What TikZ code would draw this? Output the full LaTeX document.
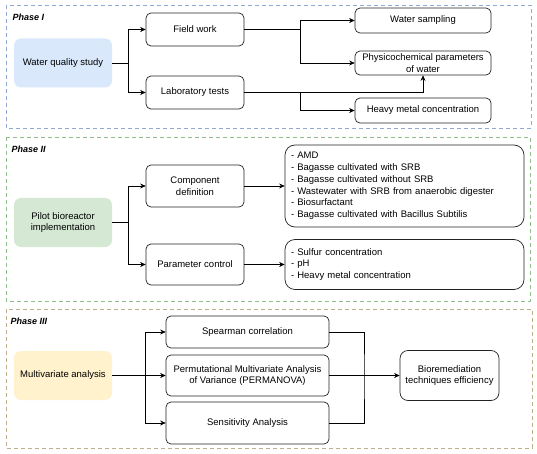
\documentclass[tikz,border=0pt]{standalone}
\usepackage{fontspec}
\setmainfont{Liberation Sans}
\usepackage[dvipsnames]{xcolor}
\usetikzlibrary{arrows.meta}

\definecolor{phaseIline}{HTML}{8FA9D4}
\definecolor{phaseIIline}{HTML}{8DBE8C}
\definecolor{phaseIIIline}{HTML}{BDAF8E}
\definecolor{bluefill}{HTML}{DAE8FC}
\definecolor{greenfill}{HTML}{D5E8D4}
\definecolor{yellowfill}{HTML}{FFF2CC}
\definecolor{boxline}{HTML}{222222}

\begin{document}
\begin{tikzpicture}[x=1pt,y=-1pt,>={Stealth[length=5.5pt,width=5pt]},line width=0.7pt,
    phase frame/.style={dash pattern=on 4pt off 3pt,line width=0.8pt},
    phase label/.style={anchor=west,font=\fontsize{9}{11}\selectfont\bfseries\itshape},
    start node/.style={rounded corners=7pt,align=center,minimum width=98pt,minimum height=49pt,inner sep=1pt,font=\fontsize{9.5}{11.5}\selectfont},
    task node/.style={draw=boxline,rounded corners=5pt,align=center,minimum width=98pt,minimum height=33pt,inner sep=1pt,font=\fontsize{9.5}{11.5}\selectfont},
    list node/.style={draw=boxline,rounded corners=10pt,align=left,text width=227pt,minimum width=239pt,inner xsep=6pt,inner ysep=1pt,font=\fontsize{9.5}{11.8}\selectfont}]
    \useasboundingbox (0,0) rectangle (537,454);

    % phase frames
    \draw[phase frame,phaseIline] (6,5) rectangle (531,128);
    \draw[phase frame,phaseIIline] (6,137) rectangle (530,301);
    \draw[phase frame,phaseIIIline] (6,309) rectangle (532,448);
    \node[phase label] (p1) at (9,17) {Phase I};
    \node[phase label] (p2) at (8,149) {Phase II};
    \node[phase label] (p3) at (7,321) {Phase III};

    % Phase I
    \node[start node,fill=bluefill] (wqs) at (63,63) {Water quality study};
    \node[task node] (field) at (195,29.5) {Field work};
    \node[task node] (lab) at (195,92.5) {Laboratory tests};
    \node[task node,minimum width=136pt,minimum height=25pt] (sampling) at (423,20.5) {Water sampling};
    \node[task node,minimum width=136pt,minimum height=24pt] (physchem) at (423,63) {Physicochemical parameters\\of water};
    \node[task node,minimum width=136pt,minimum height=25pt] (heavy) at (423,110.5) {Heavy metal concentration};
    \coordinate (j1) at (128,63);
    \coordinate (j2) at (300,29.5);
    \coordinate (j3) at (300,92.5);

    \draw[->] (wqs.east) -- (j1) |- (field.west);
    \draw[->] (j1) |- (lab.west);
    \draw[->] (field.east) -- (j2) |- (sampling.west);
    \draw[->] (j2) |- (physchem.west);
    \draw[->] (lab.east) -| (physchem.south);
    \draw[->] (j3) |- (heavy.west);

    % Phase II
    \node[start node,fill=greenfill] (pilot) at (63,222.5) {Pilot bioreactor\\implementation};
    \node[task node,minimum height=42pt] (comp) at (195,186) {Component\\definition};
    \node[task node,minimum height=41pt] (param) at (195,264.5) {Parameter control};
    \node[list node,minimum height=82pt] (ingredients) at (404.5,186) {- AMD\\- Bagasse cultivated with SRB\\- Bagasse cultivated without SRB\\- Wastewater with SRB from anaerobic digester\\- Biosurfactant\\- Bagasse cultivated with Bacillus Subtilis};
    \node[list node,minimum height=50pt] (controls) at (404.5,264.5) {- Sulfur concentration\\- pH\\- Heavy metal concentration};
    \coordinate (j4) at (128,222.5);

    \draw[->] (pilot.east) -- (j4) |- (comp.west);
    \draw[->] (j4) |- (param.west);
    \draw[->] (comp.east) -- (ingredients.west);
    \draw[->] (param.east) -- (controls.west);

    % Phase III
    \node[start node,fill=yellowfill] (multi) at (63,375.5) {Multivariate analysis};
    \node[task node,minimum width=163pt,minimum height=32pt] (spear) at (247.5,332) {Spearman correlation};
    \node[task node,minimum width=163pt,minimum height=41pt] (perm) at (247.5,375.5) {Permutational Multivariate Analysis\\of Variance (PERMANOVA)};
    \node[task node,minimum width=163pt,minimum height=42pt] (sens) at (247.5,423) {Sensitivity Analysis};
    \node[task node,minimum width=99pt,minimum height=50pt,rounded corners=8pt] (biorem) at (449.5,375.5) {Bioremediation\\techniques efficiency};
    \coordinate (j5) at (145,375.5);
    \coordinate (j6) at (364,375.5);

    \draw[->] (multi.east) -- (j5) |- (spear.west);
    \draw[->] (j5) -- (perm.west);
    \draw[->] (j5) |- (sens.west);
    \draw (spear.east) -| (j6) |- (sens.east);
    \draw[->] (perm.east) -- (biorem.west);
\end{tikzpicture}
\end{document}
